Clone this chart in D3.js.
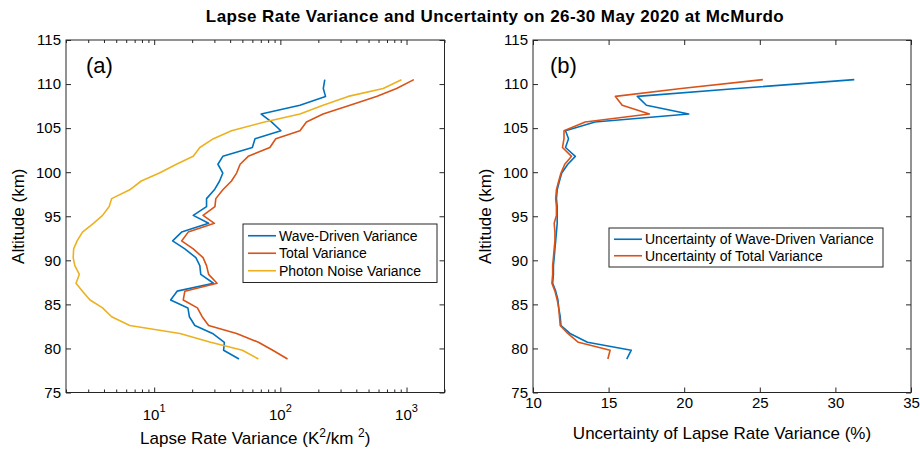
<!DOCTYPE html>
<html>
<head>
<meta charset="utf-8">
<script src="https://cdn.jsdelivr.net/npm/d3@7"></script>
<style>
  body { margin: 0; background: #fff; }
  svg { font-family: "Liberation Sans", Arial, Helvetica, sans-serif; }
</style>
</head>
<body>
<svg id="chart" width="920" height="454"></svg>
<script>
// altitude bins (km), bottom to top
const altitude = [78.8, 79.8, 80.7, 81.7, 82.6, 83.6, 84.6, 85.5, 86.5, 87.4,
  88.4, 89.4, 90.3, 91.3, 92.2, 93.2, 94.2, 95.1, 96.1, 97.0,
  98.0, 99.0, 99.9, 100.9, 101.8, 102.8, 103.8, 104.7, 105.7, 106.6,
  107.6, 108.6, 109.5, 110.5];

// panel (a): lapse rate variance, K^2/km^2
const waveVar = [47, 35.5, 36, 29, 21, 19, 18.5, 13.5, 15.2, 29.5,
  23.4, 23, 21.4, 17.5, 14, 16.5, 27, 20.4, 26, 26,
  30, 33, 35, 32, 35, 60, 63, 101, 85, 70.5,
  143, 228, 219, 225];
const totalVar = [114, 87, 67, 45, 27, 24, 22, 17, 17.5, 31.5,
  27, 26, 24.4, 20.4, 16.5, 18.6, 30, 24.4, 30.3, 30.8,
  35, 41, 45, 48, 55.6, 82.6, 92, 143, 161, 218,
  356, 578, 834, 1143];
const noiseVar = [67, 50, 28, 16, 6.4, 4.6, 3.9, 3.1, 2.7, 2.4,
  2.55, 2.35, 2.28, 2.3, 2.45, 2.7, 3.3, 3.9, 4.4, 4.6,
  6.4, 7.9, 11, 15, 20.4, 23, 29.5, 41, 75, 143,
  218, 345, 653, 912];

// panel (b): uncertainty, %
const waveUnc = [16.2, 16.5, 13.6, 12.45, 11.85, 11.8, 11.7, 11.65, 11.5, 11.3,
  11.35, 11.35, 11.4, 11.45, 11.5, 11.55, 11.6, 11.6, 11.6, 11.55,
  11.6, 11.75, 11.9, 12.3, 12.8, 12.15, 12.35, 12.15, 14.1, 20.3,
  17.5, 16.9, 23.5, 31.25];
const totalUnc = [14.95, 15.1, 13.0, 12.3, 11.8, 11.75, 11.7, 11.6, 11.45, 11.25,
  11.3, 11.3, 11.35, 11.4, 11.45, 11.45, 11.4, 11.55, 11.55, 11.5,
  11.55, 11.7, 11.85, 12.1, 12.55, 11.95, 12.05, 12.05, 13.45, 17.7,
  15.9, 15.45, 19.8, 25.2];

const altTicks = [75, 80, 85, 90, 95, 100, 105, 110, 115];
const varTicks = [10, 100, 1000];
const varExp = ['1', '2', '3'];
const uncTicks = [10, 15, 20, 25, 30, 35];

const legendA = ['Wave-Driven Variance', 'Total Variance', 'Photon Noise Variance'];
const legendB = ['Uncertainty of Wave-Driven Variance', 'Uncertainty of Total Variance'];

const colors = ['#0072BD', '#D95319', '#EDB120'];
const axisColor = '#262626';
const tickFont = 15;
const labelFont = 17;

const svg = d3.select('#chart');

svg.append('text')
  .attr('x', 495).attr('y', 22)
  .attr('text-anchor', 'middle')
  .attr('font-weight', 'bold')
  .attr('font-size', 17)
  .attr('letter-spacing', 0.4)
  .attr('fill', '#000')
  .text('Lapse Rate Variance and Uncertainty on 26-30 May 2020 at McMurdo');

const plotTop = 40, plotBottom = 392.5;

const y = d3.scaleLinear().domain([75, 115]).range([plotBottom, plotTop]);

function frame(g, x0, x1) {
  g.append('rect')
    .attr('x', x0).attr('y', plotTop)
    .attr('width', x1 - x0).attr('height', plotBottom - plotTop)
    .attr('fill', 'none')
    .attr('stroke', axisColor)
    .attr('stroke-width', 1);
}

function styleAxis(sel) {
  sel.select('.domain').remove();
  sel.selectAll('line').attr('stroke', axisColor);
  sel.selectAll('text')
    .attr('fill', '#000')
    .attr('font-size', tickFont)
    .attr('font-family', null);
}

function yAxes(g, x0, x1) {
  g.append('g')
    .attr('transform', `translate(${x0},0)`)
    .call(d3.axisLeft(y).tickValues(altTicks).tickSize(-5).tickPadding(5))
    .call(styleAxis);
  g.append('g')
    .attr('transform', `translate(${x1},0)`)
    .call(d3.axisRight(y).tickValues(altTicks).tickSize(-5).tickFormat(''))
    .call(styleAxis);
  g.append('text')
    .attr('transform', `translate(${x0 - 42},${(plotTop + plotBottom) / 2}) rotate(-90)`)
    .attr('text-anchor', 'middle')
    .attr('font-size', labelFont)
    .text('Altitude (km)');
}

function addLine(g, x, values, color) {
  const line = d3.line()
    .x((d, i) => x(d))
    .y((d, i) => y(altitude[i]));
  g.append('path')
    .datum(values)
    .attr('fill', 'none')
    .attr('stroke', color)
    .attr('stroke-width', 1.6)
    .attr('stroke-linejoin', 'round')
    .attr('d', line);
}

function legend(g, lx, ly, w, names, rowH) {
  const h = names.length * rowH + 6;
  g.append('rect')
    .attr('x', lx).attr('y', ly)
    .attr('width', w).attr('height', h)
    .attr('fill', '#fff')
    .attr('stroke', axisColor)
    .attr('stroke-width', 1);
  names.forEach((n, i) => {
    const cy = ly + 3 + rowH * (i + 0.5);
    g.append('line')
      .attr('x1', lx + 5).attr('x2', lx + 33)
      .attr('y1', cy).attr('y2', cy)
      .attr('stroke', colors[i])
      .attr('stroke-width', 1.6);
    g.append('text')
      .attr('x', lx + 36).attr('y', cy + 5)
      .attr('font-size', 14)
      .attr('fill', '#000')
      .text(n);
  });
}

// ---- panel (a)
const ax0 = 66, ax1 = 444.5;
const xA = d3.scaleLog().domain([2, 2000]).range([ax0, ax1]);
const gA = svg.append('g');

addLine(gA, xA, waveVar, colors[0]);
addLine(gA, xA, totalVar, colors[1]);
addLine(gA, xA, noiseVar, colors[2]);

frame(gA, ax0, ax1);
yAxes(gA, ax0, ax1);

const minorA = xA.ticks().filter(v => !varTicks.includes(v));
[[d3.axisBottom, plotBottom], [d3.axisTop, plotTop]].forEach(([axis, pos]) => {
  gA.append('g')
    .attr('transform', `translate(0,${pos})`)
    .call(axis(xA).tickValues(varTicks).tickSize(-5).tickFormat(''))
    .call(styleAxis);
  gA.append('g')
    .attr('transform', `translate(0,${pos})`)
    .call(axis(xA).tickValues(minorA).tickSize(-3).tickFormat(''))
    .call(styleAxis);
});

varTicks.forEach((v, i) => {
  const t = gA.append('text')
    .attr('x', xA(v)).attr('y', plotBottom + 27)
    .attr('text-anchor', 'middle')
    .attr('font-size', tickFont);
  t.append('tspan').text('10');
  t.append('tspan').attr('dy', -8).attr('font-size', 11).text(varExp[i]);
});

const xlA = gA.append('text')
  .attr('x', (ax0 + ax1) / 2).attr('y', plotBottom + 51)
  .attr('text-anchor', 'middle')
  .attr('font-size', labelFont);
xlA.append('tspan').text('Lapse Rate Variance (K');
xlA.append('tspan').attr('dy', -7).attr('font-size', 12).text('2');
xlA.append('tspan').attr('dy', 7).text('/km ');
xlA.append('tspan').attr('dy', -7).attr('font-size', 12).text('2');
xlA.append('tspan').attr('dy', 7).text(')');

gA.append('text')
  .attr('x', 86).attr('y', 73)
  .attr('font-size', 22)
  .text('(a)');

legend(gA, 243, 224, 194, legendA, 17.5);

// ---- panel (b)
const bx0 = 533, bx1 = 911;
const xB = d3.scaleLinear().domain([10, 35]).range([bx0, bx1]);
const gB = svg.append('g');

addLine(gB, xB, waveUnc, colors[0]);
addLine(gB, xB, totalUnc, colors[1]);

frame(gB, bx0, bx1);
yAxes(gB, bx0, bx1);

gB.append('g')
  .attr('transform', `translate(0,${plotBottom})`)
  .call(d3.axisBottom(xB).tickValues(uncTicks).tickSize(-5).tickPadding(5))
  .call(styleAxis);
gB.append('g')
  .attr('transform', `translate(0,${plotTop})`)
  .call(d3.axisTop(xB).tickValues(uncTicks).tickSize(-5).tickFormat(''))
  .call(styleAxis);

gB.append('text')
  .attr('x', (bx0 + bx1) / 2).attr('y', plotBottom + 46)
  .attr('text-anchor', 'middle')
  .attr('font-size', labelFont)
  .text('Uncertainty of Lapse Rate Variance (%)');

gB.append('text')
  .attr('x', 550).attr('y', 73)
  .attr('font-size', 22)
  .text('(b)');

legend(gB, 609, 228, 274, legendB, 16.5);
</script>
</body>
</html>
